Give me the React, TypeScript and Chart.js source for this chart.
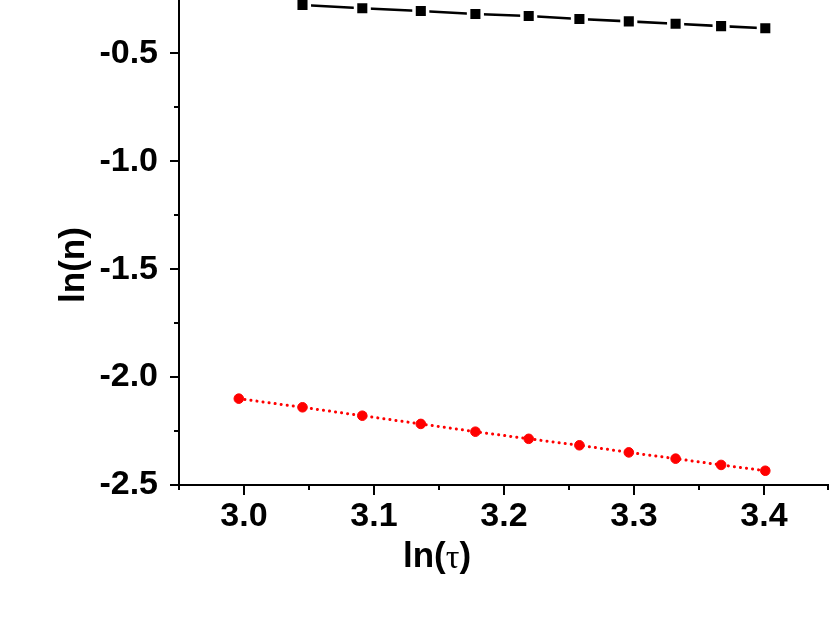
import React, { useEffect, useRef } from 'react';
import { Chart, registerables } from 'chart.js';

Chart.register(...registerables);

// ---- data ----
const lnTauRed = [2.996, 3.045, 3.091, 3.136, 3.178, 3.219, 3.258, 3.296, 3.332, 3.367, 3.401];
const lnNRed = [-2.100, -2.140, -2.179, -2.217, -2.253, -2.286, -2.316, -2.349, -2.378, -2.407, -2.434];
const lnTauBlack = [3.045, 3.091, 3.136, 3.178, 3.219, 3.258, 3.296, 3.332, 3.367, 3.401];
const lnNBlack = [-0.276, -0.291, -0.304, -0.318, -0.327, -0.341, -0.352, -0.363, -0.374, -0.384];

const xMajorTicks = [3.0, 3.1, 3.2, 3.3, 3.4];
const xMinorTicks = [2.95, 3.05, 3.15, 3.25, 3.35, 3.45];
const yMajorTicks = [-2.5, -2.0, -1.5, -1.0, -0.5];
const yMinorTicks = [-2.25, -1.75, -1.25, -0.75, -0.25];

const xTitleMain = 'ln(';
const xTitleGreek = 'τ';
const xTitleEnd = ')';
const yTitle = 'ln(n)';

const SANS = '"Liberation Sans", Arial, Helvetica, sans-serif';
const SERIF = '"Liberation Serif", "Times New Roman", serif';

const axisDecor = {
  id: 'axisDecor',
  afterDraw(chart: any) {
    const { ctx, chartArea, scales } = chart;
    const xs = scales.x;
    const ys = scales.y;
    ctx.save();
    ctx.strokeStyle = '#000';
    ctx.lineWidth = 2;
    ctx.beginPath();
    for (const v of xMajorTicks) {
      const p = Math.round(xs.getPixelForValue(v));
      ctx.moveTo(p, chartArea.bottom);
      ctx.lineTo(p, chartArea.bottom + 10);
    }
    for (const v of xMinorTicks) {
      const p = Math.min(Math.round(xs.getPixelForValue(v)), chartArea.right - 1);
      ctx.moveTo(p, chartArea.bottom);
      ctx.lineTo(p, chartArea.bottom + 5);
    }
    for (const v of yMajorTicks) {
      const p = Math.round(ys.getPixelForValue(v));
      ctx.moveTo(chartArea.left - 9, p);
      ctx.lineTo(chartArea.left, p);
    }
    for (const v of yMinorTicks) {
      const p = Math.round(ys.getPixelForValue(v));
      ctx.moveTo(chartArea.left - 5, p);
      ctx.lineTo(chartArea.left, p);
    }
    ctx.stroke();

    // axis titles
    ctx.fillStyle = '#000';
    ctx.textBaseline = 'middle';
    const boldFont = `bold 35px ${SANS}`;
    const greekFont = `34px ${SERIF}`;
    ctx.font = boldFont;
    const w1 = ctx.measureText(xTitleMain).width;
    const w3 = ctx.measureText(xTitleEnd).width;
    ctx.font = greekFont;
    const w2 = ctx.measureText(xTitleGreek).width;
    const total = w1 + w2 + w3;
    const cx = chartArea.left + 258;
    const cy = chartArea.bottom + 72;
    const x0 = cx - total / 2;
    ctx.textAlign = 'left';
    ctx.font = boldFont;
    ctx.fillText(xTitleMain, x0, cy);
    ctx.font = greekFont;
    ctx.fillText(xTitleGreek, x0 + w1, cy + 2);
    ctx.font = boldFont;
    ctx.fillText(xTitleEnd, x0 + w1 + w2, cy);

    ctx.save();
    ctx.translate(chartArea.left - 105, chartArea.top + 265);
    ctx.rotate(-Math.PI / 2);
    ctx.textAlign = 'center';
    ctx.font = boldFont;
    ctx.fillText(yTitle, 0, 0);
    ctx.restore();

    ctx.restore();
  },
};

const zeroPad = (scale: any) => {
  scale.paddingTop = 0;
  scale.paddingBottom = 0;
  scale.paddingLeft = 0;
  scale.paddingRight = 0;
};

export default function App() {
  const canvasRef = useRef<HTMLCanvasElement | null>(null);

  useEffect(() => {
    const canvas = canvasRef.current;
    if (!canvas) return;
    const chart = new Chart(canvas, {
      type: 'scatter',
      data: {
        datasets: [
          {
            label: 'black',
            data: lnTauBlack.map((x, i) => ({ x, y: lnNBlack[i] })),
            showLine: true,
            borderColor: '#000000',
            borderWidth: 2.6,
            pointStyle: 'rect',
            pointRadius: 9.6,
            pointHoverRadius: 9.6,
            pointBackgroundColor: '#000000',
            pointBorderColor: '#ffffff',
            pointBorderWidth: 3.5,
            clip: false,
          },
          {
            label: 'red',
            data: lnTauRed.map((x, i) => ({ x, y: lnNRed[i] })),
            showLine: true,
            borderColor: '#ff0000',
            borderWidth: 3,
            borderDash: [0.1, 6],
            borderCapStyle: 'round',
            pointStyle: 'circle',
            pointRadius: 4.8,
            pointHoverRadius: 4.8,
            pointBackgroundColor: '#ff0000',
            pointBorderColor: '#ff0000',
            pointBorderWidth: 1,
            clip: false,
          },
        ],
      },
      options: {
        animation: false,
        responsive: false,
        devicePixelRatio: 1,
        layout: { padding: 0, autoPadding: false },
        plugins: {
          legend: { display: false },
          tooltip: { enabled: false },
        },
        scales: {
          x: {
            type: 'linear',
            min: 2.95,
            max: 3.45,
            afterBuildTicks: (scale: any) => {
              scale.ticks = xMajorTicks.map((v) => ({ value: v }));
            },
            afterFit: (scale: any) => {
              scale.height = 144;
              zeroPad(scale);
            },
            grid: { display: false, drawTicks: false },
            border: { display: true, color: '#000', width: 2 },
            ticks: {
              padding: 11,
              color: '#000',
              font: { family: SANS, size: 34, weight: 'bold' },
              maxRotation: 0,
              autoSkip: false,
              callback: (v: any) => Number(v).toFixed(1),
            },
          },
          y: {
            type: 'linear',
            min: -2.5,
            max: -0.253,
            afterBuildTicks: (scale: any) => {
              scale.ticks = yMajorTicks.map((v) => ({ value: v }));
            },
            afterFit: (scale: any) => {
              scale.width = 179;
              zeroPad(scale);
            },
            grid: { display: false, drawTicks: false },
            border: { display: true, color: '#000', width: 2 },
            ticks: {
              padding: 21,
              color: '#000',
              font: { family: SANS, size: 34, weight: 'bold' },
              autoSkip: false,
              callback: (v: any) => Number(v).toFixed(1),
            },
          },
        },
      },
      plugins: [axisDecor],
    } as any);
    return () => chart.destroy();
  }, []);

  return (
    <div style={{ position: 'absolute', left: 0, top: 0, width: 829, height: 629, background: '#fff' }}>
      <canvas ref={canvasRef} width={829} height={629} style={{ display: 'block' }} />
    </div>
  );
}
